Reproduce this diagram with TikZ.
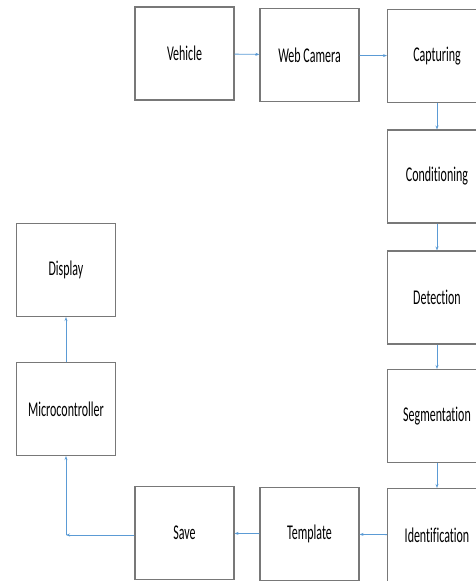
\documentclass[tikz,border=0pt]{standalone}
\usepackage{fontspec}
\setmainfont{Carlito}[FakeStretch=0.57,Ligatures={NoCommon}]
\usetikzlibrary{arrows.meta}
\definecolor{flowblue}{RGB}{91,155,213}
\definecolor{boxgray}{RGB}{120,120,120}
\tikzstyle{block}=[draw=boxgray,line width=1.1pt,fill=white,minimum width=99pt,minimum height=93pt,inner sep=0pt,font=\fontsize{21}{25}\selectfont]
\tikzstyle{flow}=[draw=flowblue,line width=0.8pt,-{Stealth[length=4pt,width=3pt]}]

\begin{document}
\begin{tikzpicture}[x=1pt,y=-1pt]
    \useasboundingbox (0,0) rectangle (476,581);
    \node[block] (vehicle) at (184.5,53.5) {Vehicle};
    \node[block] (webcam) at (309.5,55) {Web Camera};
    \node[block] (capture) at (437,56) {Capturing};
    \node[block] (cond) at (437,176.5) {Conditioning};
    \node[block] (detect) at (437,297.5) {Detection};
    \node[block] (segment) at (437,416) {Segmentation};
    \node[block] (ident) at (437,535) {Identification};
    \node[block] (templ) at (309.5,534) {Template};
    \node[block] (save) at (184.5,533) {Save};
    \node[block] (micro) at (66,409) {Microcontroller};
    \node[block] (display) at (66,270) {Display};
    \coordinate (bend) at (66,535);

    \foreach \from/\to in {vehicle/webcam,webcam/capture,capture/cond,cond/detect,detect/segment,segment/ident,ident/templ,templ/save,micro/display}
    \draw[flow] (\from) -- (\to);
    \draw[flow] (save.west |- bend) -- (bend);
    \draw[flow] (bend) -- (micro);
\end{tikzpicture}
\end{document}
